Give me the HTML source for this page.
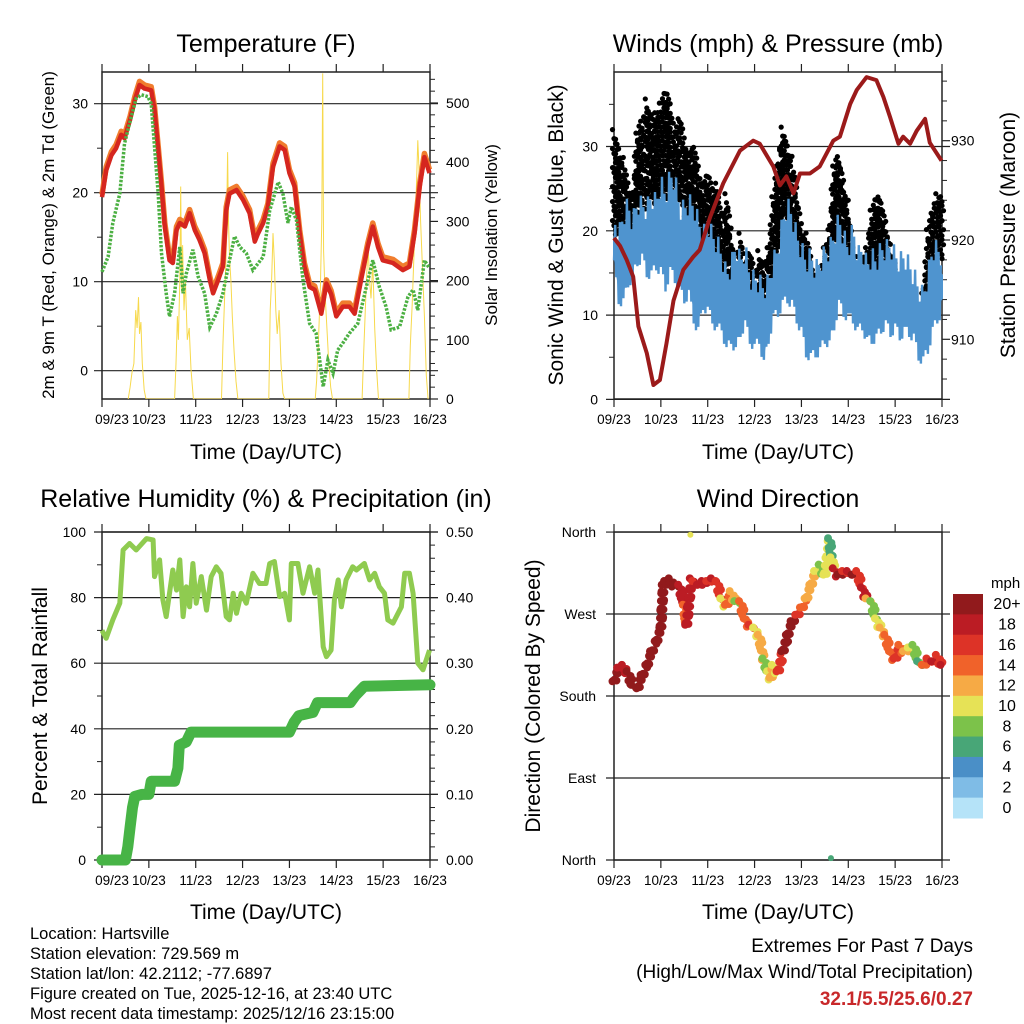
<!DOCTYPE html>
<html><head><meta charset="utf-8"><style>
html,body{margin:0;padding:0;background:#fff}
svg{display:block;font-family:"Liberation Sans",Arial,sans-serif}
</style></head><body>
<svg id="chart" width="1024" height="1024" viewBox="0 0 1024 1024" xmlns="http://www.w3.org/2000/svg">
<rect width="1024" height="1024" fill="#fff"/>
<text x="266" y="52" font-size="25" text-anchor="middle">Temperature (F)</text>
<text x="778" y="52" font-size="25" text-anchor="middle">Winds (mph) &amp; Pressure (mb)</text>
<text x="266" y="507" font-size="25" text-anchor="middle">Relative Humidity (%) &amp; Precipitation (in)</text>
<text x="778" y="507" font-size="25" text-anchor="middle">Wind Direction</text>
<text x="266" y="459" font-size="21" text-anchor="middle">Time (Day/UTC)</text>
<text x="778" y="459" font-size="21" text-anchor="middle">Time (Day/UTC)</text>
<text x="266" y="919" font-size="21" text-anchor="middle">Time (Day/UTC)</text>
<text x="778" y="919" font-size="21" text-anchor="middle">Time (Day/UTC)</text>
<text transform="translate(54,235) rotate(-90)" font-size="17" text-anchor="middle">2m &amp; 9m T (Red, Orange) &amp; 2m Td (Green)</text>
<text transform="translate(497,235) rotate(-90)" font-size="17" text-anchor="middle">Solar Insolation (Yellow)</text>
<text transform="translate(563,235) rotate(-90)" font-size="21" text-anchor="middle">Sonic Wind &amp; Gust (Blue, Black)</text>
<text transform="translate(1015,235) rotate(-90)" font-size="21" text-anchor="middle">Station Pressure (Maroon)</text>
<text transform="translate(47,696) rotate(-90)" font-size="21" text-anchor="middle">Percent &amp; Total Rainfall</text>
<text transform="translate(540,696) rotate(-90)" font-size="21" text-anchor="middle">Direction (Colored By Speed)</text>
<g font-size="16.5">
<text x="30" y="939">Location: Hartsville</text>
<text x="30" y="959">Station elevation: 729.569 m</text>
<text x="30" y="979">Station lat/lon: 42.2112; -77.6897</text>
<text x="30" y="999">Figure created on Tue, 2025-12-16, at 23:40 UTC</text>
<text x="30" y="1019">Most recent data timestamp: 2025/12/16 23:15:00</text>
</g>
<text x="973" y="952" font-size="19" text-anchor="end">Extremes For Past 7 Days</text>
<text x="973" y="978" font-size="19" text-anchor="end">(High/Low/Max Wind/Total Precipitation)</text>
<text x="973" y="1005" font-size="19" font-weight="bold" fill="#c8282a" text-anchor="end">32.1/5.5/25.6/0.27</text>
<text x="991" y="588" font-size="15">mph</text>
</svg>
<script>
// ---------- DATA ----------
const dayLabels = ["09/23","10/23","11/23","12/23","13/23","14/23","15/23","16/23"];
const tempDays = [0,0.09,0.2,0.3,0.41,0.48,0.6,0.7,0.8,0.91,1.05,1.12,1.2,1.27,1.34,1.44,1.51,1.59,1.66,1.77,1.87,1.98,2.08,2.19,2.3,2.37,2.48,2.58,2.65,2.72,2.87,3.01,3.15,3.26,3.33,3.44,3.54,3.65,3.79,3.9,4.0,4.11,4.22,4.32,4.43,4.54,4.68,4.79,4.89,5.0,5.14,5.28,5.39,5.53,5.67,5.78,5.89,5.99,6.21,6.42,6.56,6.67,6.78,6.88,6.99];
const temp2m = [19.5,22.5,24.2,25,26.5,26.1,28.2,30.4,32.1,31.7,31.5,29.3,24.8,20.7,16.2,12.4,12.1,15.8,16.6,16.2,17.7,15.8,14.7,13.2,10.2,8.7,10.2,11.7,18,19.9,20.3,19.2,17.7,14.5,15.4,16.6,18.4,22.9,25.2,24.8,22.2,20.7,15.4,11.7,9.4,9.1,6.4,9.8,8.6,6.1,7.2,7.2,6.4,10.2,13.9,16.2,13.9,12.4,12.1,11.3,11.7,15.4,20.7,24,22.2];
const temp9m = [19.8,22.9,24.6,25.4,26.9,26.5,28.6,30.8,32.5,32.1,31.9,29.7,25.2,21.1,16.6,12.8,12.5,16.2,17,16.6,18.1,16.2,15.1,13.6,10.6,9.1,10.6,12.1,18.4,20.3,20.7,19.6,18.1,14.9,15.8,17,18.8,23.3,25.6,25.2,22.6,21.1,15.8,12.1,9.8,9.5,6.8,10.2,9,6.5,7.6,7.6,6.8,10.6,14.3,16.6,14.3,12.8,12.5,11.7,12.1,15.8,21.1,24.4,22.6];
const dewDays = [0,0.13,0.23,0.38,0.48,0.59,0.73,0.84,0.98,1.05,1.12,1.2,1.27,1.37,1.44,1.55,1.66,1.73,1.8,1.94,2.05,2.19,2.3,2.44,2.58,2.72,2.83,2.94,3.08,3.22,3.44,3.58,3.76,3.86,3.97,4.04,4.15,4.29,4.43,4.57,4.72,4.82,4.93,5.03,5.14,5.28,5.46,5.64,5.78,5.92,6.06,6.17,6.35,6.53,6.64,6.74,6.88,6.99];
const dewPoint = [11.1,12.8,16.6,19.9,25.5,27.8,30.6,31,30.8,30,25.2,19.9,13.2,8.7,6.1,8.7,13.9,8.7,10.9,13.6,10.6,8.7,4.9,6.4,8.7,12.4,15.1,13.9,13.2,11.3,12.8,18,21.2,19.9,16.6,18.4,16.9,10.2,5.3,4.2,-1.8,1.2,-0.3,2.3,3.1,4.2,5.3,9.4,12.4,9.4,7.2,4.6,4.9,8.3,9.1,6.8,12.4,11.5];
const solarDays = [0.56,0.60,0.64,0.68,0.72,0.75,0.78,0.80,0.83,0.86,0.90,0.94, 1.55,1.58,1.61,1.63,1.66,1.68,1.70,1.72,1.75,1.78,1.82,1.86,1.90,1.95, 2.55,2.58,2.62,2.65,2.68,2.70,2.72,2.75,2.78,2.82,2.86,2.90, 3.56,3.59,3.62,3.65,3.68,3.71,3.74,3.78,3.82,3.86,3.90, 4.55,4.58,4.62,4.66,4.69,4.71,4.73,4.76,4.80,4.84,4.88,4.92, 5.55,5.58,5.62,5.65,5.68,5.71,5.74,5.78,5.82,5.86,5.90, 6.55,6.58,6.62,6.66,6.70,6.74,6.77,6.80,6.84,6.88,6.92,6.96];
const solarVals = [0,20,45,60,150,120,172,110,130,60,15,0, 0,60,140,100,200,359,180,260,150,200,100,120,50,0, 0,90,180,250,417,300,240,200,140,80,30,0, 0,150,200,280,230,150,110,150,60,10,0, 0,30,100,190,300,550,250,180,120,60,20,0, 0,70,150,210,258,200,170,230,120,50,0, 0,90,160,250,330,437,380,300,220,140,40,0];
const windStep = 0.1;
const windMax = [20,18,20.5,21.7,19.7,22,21.7,21.3,22.8,22,24.4,22.8,25.2,24.8,21.3,21.3,22,21.7,19.7,18,19.7,18,17.3,15.7,13.4,14.5,16.9,15,16.5,13,13,12.6,11.8,12.6,15,16.5,19.7,21.7,20.5,18,16.5,15,15.7,14,15,16,16.5,18,20,18,16.5,18.9,15.7,16.5,14.5,15.7,15,16.5,16.5,16.9,15.7,15,15.7,14.5,13.4,11.8,11,13.4,16.5,16.5,15.7];
const windMin = [16.5,12.5,12,14.5,15,17,17.3,15.7,15.3,16.5,15.7,14,15.7,15,13.4,12.6,13,10.2,8.6,11.8,11,10.2,8.6,9.4,6.2,7.8,6.2,8.6,9.4,7.8,6.6,7.8,4.7,7.8,10.2,11,11.8,12.6,11.8,10.2,8.6,6.2,5.5,6.2,6.2,7.8,7,9.4,11.8,11,10.2,10.2,8.6,9.4,7.4,7.8,7.8,9,9.4,8.6,9,8.2,8.6,8.6,7.8,5.8,5.1,6.6,8.6,10.2,11];
const gustMax = [32,30,28.4,25.2,24.4,32.3,33,36,33,34,35.5,37,35,31.5,34,30.4,29.6,30.4,27.2,25.6,27.2,24.8,26,20.5,24.4,19.7,16.5,19.7,15.7,18,14.5,18,15.7,18,24.4,28.4,32.3,30.4,28.4,24.4,20.5,19.7,16.5,14.5,15,18,20.5,28.4,28.8,26,22.8,16.5,17.3,16.5,18,22.8,24.4,23.6,21.3,17.3,16.5,12.6,12.6,11.8,11,10.2,12.6,20.5,22.8,24.4,24.4];
const gustMin = [19.7,19.7,18.5,18,19.7,22,23.6,22.5,24.4,22.5,24.4,23.6,25.2,23.6,23.6,22.5,18,16.5,18,15,12.6,12.6,12.6,14,11,11.8,10.2,12.6,11.8,10.2,9.4,10.2,8.6,11.8,14,18,20.5,22,19.7,16.5,15,12.6,11,11,11.8,12.6,13.4,18,18.9,18.9,15.7,12.6,11,10.2,11,14,15.7,15,14,13.4,12.6,11,10.2,9.4,8.6,7.8,8.6,11.8,14,18,16.5];
const presDays = [0,0.13,0.27,0.41,0.52,0.7,0.84,0.98,1.12,1.27,1.48,1.69,1.83,2.05,2.33,2.69,2.97,3.11,3.4,3.54,3.68,3.83,3.97,4.18,4.39,4.68,4.82,5.04,5.18,5.39,5.6,5.75,5.89,6.07,6.17,6.32,6.46,6.64,6.74,6.99];
const pressure = [920.2,919.4,918,916.3,911.3,908.6,905.4,905.9,909.6,913.9,917,918.3,919,922.3,925.7,929,930,929.7,927.4,925.5,926.4,924.7,926.7,926.7,927.4,930,930.4,933.7,935.1,936.4,936.1,934.4,932.4,929.7,930.4,929.7,931,932.2,929.8,928];
const rhDays = [0,0.09,0.23,0.38,0.45,0.59,0.73,0.95,1.09,1.12,1.23,1.3,1.37,1.51,1.59,1.66,1.73,1.8,1.87,1.94,2.01,2.12,2.23,2.33,2.44,2.54,2.65,2.72,2.8,2.87,2.97,3.08,3.22,3.36,3.5,3.58,3.68,3.79,3.9,4.0,4.04,4.18,4.29,4.43,4.54,4.61,4.72,4.79,4.89,4.96,5.04,5.11,5.21,5.35,5.43,5.6,5.71,5.82,5.92,6.03,6.1,6.21,6.39,6.46,6.56,6.64,6.74,6.85,6.99];
const rhVals = [70,67.6,73.2,78.3,94.5,96.5,94.5,98,97.6,86.4,91.5,79.3,74.2,88.4,82.3,91.5,74.2,83.3,77.2,90.4,78.3,86.4,76.2,86.4,89.4,87.4,74.2,73.2,81.3,75.2,81.3,78.3,87.4,84.3,84.3,90.4,91,80.3,81.3,73.2,90.4,90.4,81.3,89.4,81.3,88.4,65,62,64,79.3,85.4,77.2,85.4,89.4,88.4,90.4,85.4,87.4,83.3,81.3,73.2,72.2,77.2,87.4,87.4,81.3,60,58,64];
const precipDays = [0,0.5,0.55,0.6,0.65,0.7,0.85,1.0,1.05,1.55,1.62,1.65,1.8,1.9,4.0,4.1,4.2,4.5,4.6,5.3,5.4,5.6,7.0];
const precipVals = [0,0,0.02,0.05,0.08,0.097,0.1,0.1,0.12,0.12,0.14,0.175,0.18,0.195,0.195,0.21,0.22,0.225,0.24,0.24,0.25,0.265,0.267];
const dirDays = [0,0.1,0.2,0.3,0.4,0.5,0.6,0.7,0.8,0.9,1.0,1.05,1.1,1.2,1.3,1.4,1.5,1.55,1.65,1.7,1.8,1.9,2.0,2.1,2.2,2.3,2.4,2.5,2.6,2.7,2.8,2.9,3.0,3.1,3.2,3.3,3.35,3.4,3.5,3.6,3.7,3.8,3.9,4.0,4.1,4.2,4.3,4.4,4.5,4.6,4.65,4.7,4.8,4.9,5.0,5.1,5.2,5.3,5.4,5.5,5.6,5.7,5.8,5.9,6.0,6.1,6.2,6.3,6.4,6.5,6.6,6.7,6.8,6.9,7.0];
const dirDeg = [194,209,212,205,190,187,201,212,227,238,253,300,304,307,300,300,278,256,307,304,300,304,304,307,304,285,278,293,282,282,263,256,253,245,219,205,198,212,205,227,245,260,267,275,285,300,315,322,311,351,330,318,311,315,315,311,315,297,285,282,263,253,245,227,219,234,227,231,234,216,212,219,216,223,212];
const dirSpeed = [20,18,18,20,20,20,20,20,20,20,20,20,20,20,20,18,14,18,18,16,18,18,16,18,16,10,14,12,8,14,14,16,10,12,8,10,12,10,16,20,20,20,16,14,12,12,10,8,10,7,10,18,20,16,18,20,16,18,12,8,10,12,14,14,16,14,12,10,8,6,14,16,18,16,18];
const dirOutDays = [1.63,4.63];
const dirOutDeg = [357,2];
const dirOutSpeed = [10,6];
const cbLabels = ["20+","18","16","14","12","10","8","6","4","2","0"];
const cbColors = ["#911a1c","#bb1c24","#dd3327","#f0622a","#f6aa45","#e6e256","#7cc24a","#48a677","#4a8fc7","#7fbce6","#b5e3f8"];
const tempTicks = [0,10,20,30];
const solarTicks = [0,100,200,300,400,500];
const windTicks = [0,10,20,30];
const presTicks = [910,920,930];
const rhTicks = [0,20,40,60,80,100];
const precipTicks = ["0.00","0.10","0.20","0.30","0.40","0.50"];
const dirTicks = ["North","East","South","West","North"];
const dirTickDeg = [0,90,180,270,360];

// ---------- SCALES ----------
const svg = document.getElementById('chart');
const NS = 'http://www.w3.org/2000/svg';
function mk(tag, attrs, parent){const e=document.createElementNS(NS,tag);for(const k in attrs)e.setAttribute(k,attrs[k]);(parent||svg).appendChild(e);return e;}
const P1={x0:102,x1:430,y0:72,y1:399}, P2={x0:614,x1:942,y0:72,y1:399}, P3={x0:102,x1:430,y0:532,y1:860}, P4={x0:614,x1:942,y0:532,y1:860};
const xs=(P,d)=>P.x0+d*(P.x1-P.x0)/7;
const yTemp=v=>370.7-v*8.9, ySolar=v=>399-v*0.592;
const yWind=v=>399.4-v*8.43, yPres=v=>240-(v-920)*9.93;
const yRH=v=>860-v*3.28, yPrecip=v=>860-v*656;
const yDir=v=>860-v*0.911;
function colorFor(s){let i=Math.min(10,Math.max(0,Math.floor(s/2)));return cbColors[10-i];}
function pathD(P,days,vals,yf){return days.map((d,i)=>(i?'L':'M')+xs(P,d).toFixed(1)+','+yf(vals[i]).toFixed(1)).join(' ');}

// ---------- FRAMES ----------
function frame(P,name,leftMajor,leftMinor,yl,rightMajor,rightMinor,yr,firstLabelX){
  const g=mk('g',{});
  
  
  leftMajor.forEach(v=>{const l=mk('line',{x1:P.x0-8,x2:P.x1+8,y1:yl(v),y2:yl(v),stroke:'#222','stroke-width':1.2},g);
    
    });
  leftMinor.forEach(v=>{const l=mk('line',{x1:P.x0-5,x2:P.x0,y1:yl(v),y2:yl(v),stroke:'#222'},g);
    
    });
  if(yr){rightMajor.forEach(v=>{const l=mk('line',{x1:P.x1,x2:P.x1+8,y1:yr(v),y2:yr(v),stroke:'#222','stroke-width':1.2},g);
      
      });
    rightMinor.forEach(v=>{const l=mk('line',{x1:P.x1,x2:P.x1+5,y1:yr(v),y2:yr(v),stroke:'#222'},g);
      
      });}
  for(let d=0;d<=7;d++){const x=xs(P,d);
    const a=mk('line',{x1:x,x2:x,y1:P.y0-8,y2:P.y0,stroke:'#222','stroke-width':1.2},g);
    
    
    const b=mk('line',{x1:x,x2:x,y1:P.y1,y2:P.y1+8,stroke:'#222','stroke-width':1.2},g);
    
    
    const t=mk('text',{x:(d===0&&firstLabelX)?firstLabelX:x,y:P.y1+25,'font-size':13.5,'text-anchor':'middle'},g);
    t.textContent=dayLabels[d];
    
    }
  const r=mk('rect',{x:P.x0,y:P.y0,width:P.x1-P.x0,height:P.y1-P.y0,fill:'none',stroke:'#222','stroke-width':1.5},g);
  
  
}
function lbl(x,y,txt,anchor,name,size){const t=mk('text',{x:x,y:y+5,'font-size':size||14,'text-anchor':anchor});t.textContent=txt;
  
  }

// Panel 1
frame(P1,'temperature',tempTicks,[5,15,25],yTemp,solarTicks,[20,40,60,80,120,140,160,180,220,240,260,280,320,340,360,380,420,440,460,480,520,540],ySolar,112);
tempTicks.forEach(v=>lbl(88,yTemp(v),String(v),'end','temp-y-tick-label'));
solarTicks.forEach(v=>lbl(446,ySolar(v),String(v),'start','solar-y-tick-label'));
const clip1=mk('clipPath',{id:'c1'});mk('rect',{x:P1.x0,y:P1.y0,width:P1.x1-P1.x0,height:P1.y1-P1.y0},clip1);
const solar=mk('path',{d:pathD(P1,solarDays,solarVals,ySolar),fill:'none',stroke:'#f7d94c','stroke-width':1,'clip-path':'url(#c1)'});


const t9=mk('path',{d:pathD(P1,tempDays,temp9m,yTemp),fill:'none',stroke:'#f07d2e','stroke-width':5.5,'stroke-linejoin':'round'});


const t2=mk('path',{d:pathD(P1,tempDays,temp2m,yTemp),fill:'none',stroke:'#d5261f','stroke-width':4.5,'stroke-linejoin':'round'});


const td=mk('path',{d:pathD(P1,dewDays,dewPoint,yTemp),fill:'none',stroke:'#4cb043','stroke-width':3.5,'stroke-dasharray':'2.5 1.5'});



// Panel 2
const presMinor=[];for(let p=906;p<=936;p+=2){if(p%10)presMinor.push(p);}
frame(P2,'winds',windTicks,[5,15,25,35],yWind,presTicks,presMinor,yPres,null);
windTicks.forEach(v=>lbl(598,yWind(v),String(v),'end','wind-y-tick-label'));
presTicks.forEach(v=>lbl(951,yPres(v),String(v),'start','pressure-y-tick-label'));
const gustG=mk('g',{fill:'#000'});


const sub=3;
for(let i=0;i<gustMax.length;i++){
  const j=Math.min(i+1,gustMax.length-1);
  for(let s=0;s<(i===gustMax.length-1?1:sub);s++){
    const f=s/sub;
    const x=xs(P2,(i+f)*windStep);
    const mx=gustMax[i]+(gustMax[j]-gustMax[i])*f, mn=gustMin[i]+(gustMin[j]-gustMin[i])*f;
    const yt=yWind(mx)+((i+s)%3)*3, yb=yWind(mn);
    let k=0;
    for(let y=yt;y<=yb;y+=6){
      const c=mk('circle',{cx:x+((k+s)%3-1)*1.5,cy:y+((k*7+s)%4),r:2.6},gustG);
      
      
      k++;}
  }
}
const wsub=4;
const wg=mk('g',{stroke:'#4f94cf','stroke-width':2.4,fill:'none'});


let band='';windMax.forEach((v,i)=>band+=(i?'L':'M')+xs(P2,i*windStep).toFixed(1)+','+yWind(v-1).toFixed(1));
for(let i=windMin.length-1;i>=0;i--)band+='L'+xs(P2,i*windStep).toFixed(1)+','+yWind(windMin[i]+1).toFixed(1);
const wb=mk('path',{d:band+'Z',fill:'#4f94cf',stroke:'#4f94cf','stroke-width':2,'stroke-linejoin':'round'},wg);


let zig='';
for(let i=0;i<windMax.length-1;i++){
  for(let s=0;s<wsub;s++){const f=s/wsub;const x=xs(P2,(i+f)*windStep);
    const mx=windMax[i]+(windMax[i+1]-windMax[i])*f, mn=windMin[i]+(windMin[i+1]-windMin[i])*f;
    const v=(s%2)?mx+((i+s)%3)*1.2:mn-((i+s)%2)*1.2;
    zig+=(zig?'L':'M')+x.toFixed(1)+','+yWind(v).toFixed(1);}
}
const wz=mk('path',{d:zig},wg);


const pr=mk('path',{d:pathD(P2,presDays,pressure,yPres),fill:'none',stroke:'#9b1a1a','stroke-width':4,'stroke-linejoin':'round'});



// Panel 3
frame(P3,'humidity',rhTicks,[10,30,50,70,90],yRH,[0,0.1,0.2,0.3,0.4,0.5],[0.02,0.04,0.06,0.08,0.12,0.14,0.16,0.18,0.22,0.24,0.26,0.28,0.32,0.34,0.36,0.38,0.42,0.44,0.46,0.48],yPrecip,112);
rhTicks.forEach(v=>lbl(86,yRH(v),String(v),'end','rh-y-tick-label'));
precipTicks.forEach(v=>lbl(446,yPrecip(parseFloat(v)),v,'start','precip-y-tick-label'));
const rh=mk('path',{d:pathD(P3,rhDays,rhVals,yRH),fill:'none',stroke:'#8fcb50','stroke-width':5,'stroke-linejoin':'round'});


const pc=mk('path',{d:pathD(P3,precipDays,precipVals,yPrecip),fill:'none',stroke:'#47b446','stroke-width':11,'stroke-linejoin':'round','stroke-linecap':'round'});



// Panel 4
frame(P4,'wind-direction',dirTickDeg,[],yDir,[],[],null,null);
dirTicks.forEach((t,i)=>lbl(596,yDir(dirTickDeg[i]),t,'end','direction-tick-label'));
const dg=mk('g',{});


for(let i=0;i<dirDays.length;i++){
  const x0=xs(P4,dirDays[i]),y0=yDir(dirDeg[i]);
  const x1=i+1<dirDays.length?xs(P4,dirDays[i+1]):x0, y1=i+1<dirDays.length?yDir(dirDeg[i+1]):y0;
  const n=Math.max(1,Math.ceil(Math.hypot(x1-x0,y1-y0)/3));
  for(let k=0;k<n;k++){const f=k/n;
    const c=mk('circle',{cx:x0+(x1-x0)*f+(k%2?1.5:-1.5),cy:y0+(y1-y0)*f+(k%3-1)*2,r:4,fill:colorFor(dirSpeed[i])},dg);
    
    }
}
dirOutDays.forEach((d,i)=>{const c=mk('circle',{cx:xs(P4,d),cy:yDir(dirOutDeg[i]),r:3,fill:colorFor(dirOutSpeed[i])},dg);
  
  });

// Colorbar
const cbH=(818-594)/cbColors.length;
cbColors.forEach((c,i)=>{const r=mk('rect',{x:953,y:594+i*cbH,width:30,height:cbH+0.5,fill:c});
  
  
  lbl(1007,594+i*cbH+cbH/2,cbLabels[i],'middle','colorbar-label',16);});
</script>
</body></html>
